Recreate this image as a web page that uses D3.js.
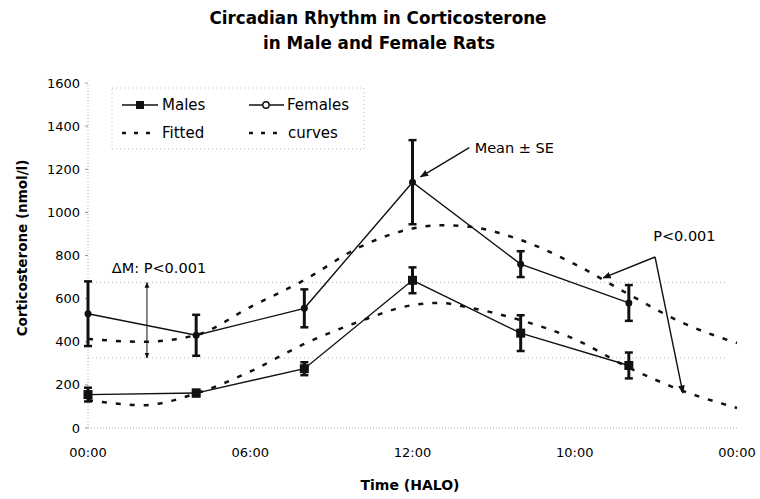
<!DOCTYPE html>
<html>
<head>
<meta charset="utf-8">
<script src="https://cdn.jsdelivr.net/npm/d3@7"></script>
<style>
  body { margin: 0; background: #fff; }
  svg { display: block; font-family: "DejaVu Sans", sans-serif; }
</style>
</head>
<body>
<div id="chart"></div>
<script>
// Sampling times (hours after lights on)
const hours = [0, 4, 8, 12, 16, 20];

// Measured means and standard errors (nmol/l)
const femaleMean = [530, 430, 555, 1140, 760, 580];
const femaleSE = [150, 95, 88, 195, 60, 83];
const maleMean = [155, 162, 275, 685, 440, 290];
const maleSE = [32, 15, 30, 60, 83, 60];

const fitHours = [0, 2, 4, 6, 8, 10, 12, 13, 14, 16, 18, 20, 22, 24];
const femaleFit = [413, 400, 431, 561, 686, 836, 925, 940, 935, 872, 760, 620, 487, 394];
const maleFit = [130, 106, 160, 262, 390, 492, 570, 580, 561, 500, 412, 280, 172, 93];

// MESOR levels of the two fits
const mesor = [675, 325];

const xTicks = [0, 6, 12, 18, 24];
const xTickLabels = ["00:00", "06:00", "12:00", "10:00", "00:00"];
const yTicks = [0, 200, 400, 600, 800, 1000, 1200, 1400, 1600];

const width = 760, height = 499;

const svg = d3.select("#chart")
    .append("svg")
    .attr("width", width)
    .attr("height", height);

const x = d3.scaleLinear().domain([0, 24]).range([88, 737]);
const y = d3.scaleLinear().domain([0, 1600]).range([428, 83]);

// arrow marker
svg.append("defs").append("marker")
    .attr("id", "arrow")
    .attr("viewBox", "0 0 10 10")
    .attr("refX", 9).attr("refY", 5)
    .attr("markerWidth", 6).attr("markerHeight", 6)
    .attr("orient", "auto-start-reverse")
    .append("path")
    .attr("d", "M0,1L10,5L0,9Z")
    .attr("fill", "#111");

// Title
svg.append("text")
    .attr("x", 378).attr("y", 24)
    .attr("text-anchor", "middle")
    .attr("font-size", 16.8).attr("font-weight", "bold")
    .text("Circadian Rhythm in Corticosterone");
svg.append("text")
    .attr("x", 379).attr("y", 49)
    .attr("text-anchor", "middle")
    .attr("font-size", 16.8).attr("font-weight", "bold")
    .text("in Male and Female Rats");

// Axes (faint dotted, as in the scan)
svg.append("line")
    .attr("x1", x(0)).attr("x2", x(0))
    .attr("y1", y(0)).attr("y2", y(1600))
    .attr("stroke", "#aaa").attr("stroke-dasharray", "1,2");
svg.append("line")
    .attr("x1", x(0)).attr("x2", x(24))
    .attr("y1", y(0)).attr("y2", y(0))
    .attr("stroke", "#aaa").attr("stroke-dasharray", "1,2");

const yAxis = svg.append("g");
yAxis.selectAll("line")
    .data(yTicks).enter().append("line")
    .attr("x1", x(0) - 3).attr("x2", x(0))
    .attr("y1", d => y(d)).attr("y2", d => y(d))
    .attr("stroke", "#999");
yAxis.selectAll("text")
    .data(yTicks).enter().append("text")
    .attr("x", 80).attr("y", d => y(d))
    .attr("dy", "0.35em")
    .attr("text-anchor", "end")
    .attr("font-size", 13)
    .text(d => d);

svg.append("g").selectAll("text")
    .data(xTicks).enter().append("text")
    .attr("x", d => x(d)).attr("y", 457)
    .attr("text-anchor", "middle")
    .attr("font-size", 13)
    .text((d, i) => xTickLabels[i]);

svg.append("text")
    .attr("x", 410).attr("y", 490)
    .attr("text-anchor", "middle")
    .attr("font-size", 14).attr("font-weight", "bold")
    .text("Time (HALO)");
svg.append("text")
    .attr("transform", "translate(27,248) rotate(-90)")
    .attr("text-anchor", "middle")
    .attr("font-size", 13.5).attr("font-weight", "bold")
    .text("Corticosterone (nmol/l)");

// MESOR lines
svg.selectAll(".mesor")
    .data(mesor).enter().append("line")
    .attr("class", "mesor")
    .attr("x1", x(0)).attr("x2", x(23.6))
    .attr("y1", d => y(d)).attr("y2", d => y(d))
    .attr("stroke", "#bbb").attr("stroke-dasharray", "1,3");

// Fitted curves
const fitLine = d3.line()
    .x((d, i) => x(fitHours[i]))
    .y(d => y(d))
    .curve(d3.curveMonotoneX);
[femaleFit, maleFit].forEach(series => {
    svg.append("path")
        .datum(series)
        .attr("d", fitLine)
        .attr("fill", "none")
        .attr("stroke", "#111")
        .attr("stroke-width", 2.5)
        .attr("stroke-dasharray", "5,9");
});

// Measured series
const dataLine = d3.line()
    .x((d, i) => x(hours[i]))
    .y(d => y(d));

function drawSeries(means, ses, kind) {
    const g = svg.append("g");
    g.append("path")
        .datum(means)
        .attr("d", dataLine)
        .attr("fill", "none")
        .attr("stroke", "#111")
        .attr("stroke-width", 1.4);
    const bars = g.selectAll(".eb")
        .data(means).enter().append("g");
    bars.append("line")
        .attr("x1", (d, i) => x(hours[i])).attr("x2", (d, i) => x(hours[i]))
        .attr("y1", (d, i) => y(d + ses[i])).attr("y2", (d, i) => y(d - ses[i]))
        .attr("stroke", "#111").attr("stroke-width", 3);
    [1, -1].forEach(s => {
        bars.append("line")
            .attr("x1", (d, i) => x(hours[i]) - 4).attr("x2", (d, i) => x(hours[i]) + 4)
            .attr("y1", (d, i) => y(d + s * ses[i])).attr("y2", (d, i) => y(d + s * ses[i]))
            .attr("stroke", "#111").attr("stroke-width", 2.5);
    });
    if (kind === "square") {
        bars.append("rect")
            .attr("x", (d, i) => x(hours[i]) - 4.5)
            .attr("y", d => y(d) - 4.5)
            .attr("width", 9).attr("height", 9)
            .attr("fill", "#111");
    } else {
        bars.append("circle")
            .attr("cx", (d, i) => x(hours[i]))
            .attr("cy", d => y(d))
            .attr("r", 3.5)
            .attr("fill", "#111");
    }
}
drawSeries(femaleMean, femaleSE, "circle");
drawSeries(maleMean, maleSE, "square");

// Legend
const legend = svg.append("g");
legend.append("rect")
    .attr("x", 112).attr("y", 88)
    .attr("width", 252).attr("height", 61)
    .attr("fill", "none")
    .attr("stroke", "#bbb").attr("stroke-dasharray", "1,3");
legend.append("line")
    .attr("x1", 122).attr("x2", 158).attr("y1", 105).attr("y2", 105)
    .attr("stroke", "#111").attr("stroke-width", 1.6);
legend.append("rect")
    .attr("x", 136).attr("y", 101).attr("width", 8).attr("height", 8)
    .attr("fill", "#111");
legend.append("text")
    .attr("x", 162).attr("y", 110).attr("font-size", 15).text("Males");
legend.append("line")
    .attr("x1", 249).attr("x2", 284).attr("y1", 105).attr("y2", 105)
    .attr("stroke", "#111").attr("stroke-width", 1.6);
legend.append("circle")
    .attr("cx", 266).attr("cy", 105).attr("r", 3.2)
    .attr("fill", "#fff").attr("stroke", "#111").attr("stroke-width", 1.4);
legend.append("text")
    .attr("x", 287).attr("y", 110).attr("font-size", 15).text("Females");
[[122, 162, "Fitted"], [249, 288, "curves"]].forEach(([lx, tx, label]) => {
    legend.append("line")
        .attr("x1", lx).attr("x2", lx + 32).attr("y1", 133).attr("y2", 133)
        .attr("stroke", "#111").attr("stroke-width", 2.5)
        .attr("stroke-dasharray", "4,8");
    legend.append("text")
        .attr("x", tx).attr("y", 138).attr("font-size", 15).text(label);
});

// Annotations
svg.append("text")
    .attr("x", x(0.88)).attr("y", y(719))
    .attr("font-size", 14.5)
    .text("\u0394M: P<0.001");
svg.append("line")
    .attr("x1", x(2.18)).attr("x2", x(2.18))
    .attr("y1", y(mesor[0])).attr("y2", y(mesor[1]))
    .attr("stroke", "#111").attr("stroke-width", 1)
    .attr("marker-start", "url(#arrow)")
    .attr("marker-end", "url(#arrow)");

svg.append("text")
    .attr("x", x(14.3)).attr("y", y(1275))
    .attr("font-size", 14.5)
    .text("Mean \u00b1 SE");
svg.append("line")
    .attr("x1", x(14.1)).attr("y1", y(1300))
    .attr("x2", x(12.3)).attr("y2", y(1165))
    .attr("stroke", "#111").attr("stroke-width", 1.4)
    .attr("marker-end", "url(#arrow)");

svg.append("text")
    .attr("x", x(20.9)).attr("y", y(865))
    .attr("font-size", 14.5)
    .text("P<0.001");
svg.append("line")
    .attr("x1", x(20.97)).attr("y1", y(793))
    .attr("x2", x(19.05)).attr("y2", y(696))
    .attr("stroke", "#111").attr("stroke-width", 1.4)
    .attr("marker-end", "url(#arrow)");
svg.append("line")
    .attr("x1", x(20.97)).attr("y1", y(793))
    .attr("x2", x(22.0)).attr("y2", y(162))
    .attr("stroke", "#111").attr("stroke-width", 1.4)
    .attr("marker-end", "url(#arrow)");
</script>
</body>
</html>
